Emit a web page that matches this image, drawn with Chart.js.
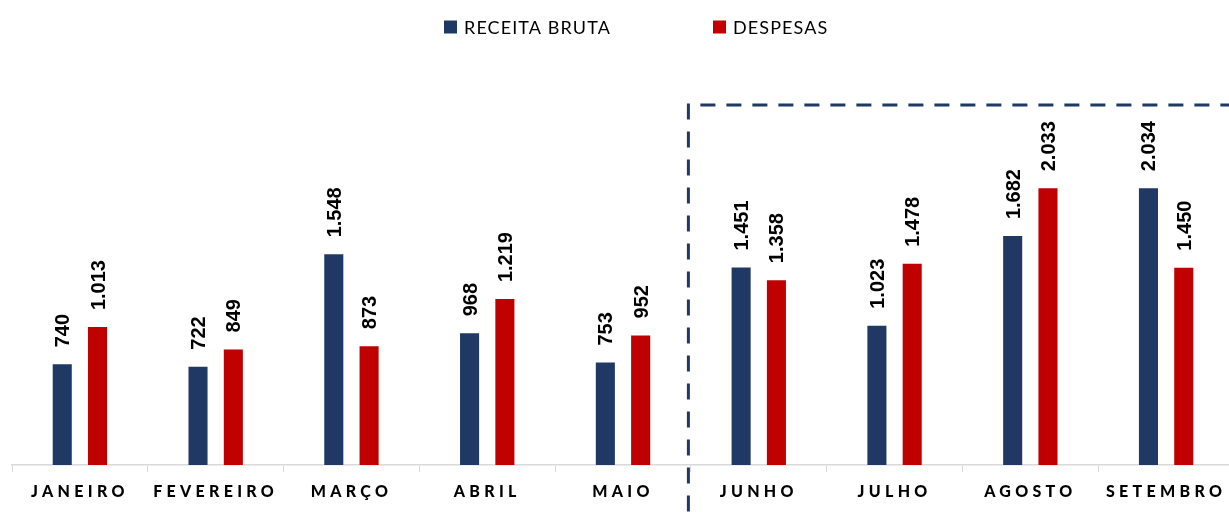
<!DOCTYPE html>
<html><head><meta charset="utf-8">
<script src="https://cdn.jsdelivr.net/npm/chart.js@4.4.1/dist/chart.umd.min.js"></script>
<style>html,body{margin:0;padding:0;background:#fff;overflow:hidden;}#wrap{width:1234px;height:512px;position:relative;}</style>
</head><body><div id="wrap"><canvas id="c"></canvas></div>
<script>
const categories = ['JANEIRO','FEVEREIRO','MARÇO','ABRIL','MAIO','JUNHO','JULHO','AGOSTO','SETEMBRO'];
const receitaBruta = [740, 722, 1548, 968, 753, 1451, 1023, 1682, 2034];
const despesas = [1013, 849, 873, 1219, 952, 1358, 1478, 2033, 1450];
const seriesNames = ['RECEITA BRUTA', 'DESPESAS'];
const seriesColors = ['#203864', '#C00000'];
const highlightStartIndex = 5;
const yMax = 2645;

function fmt(v){ return String(v).replace(/\B(?=(\d{3})+(?!\d))/g, '.'); }

const valueLabels = {
  id: 'valueLabels',
  afterDatasetsDraw(chart) {
    const ctx = chart.ctx;
    ctx.save();
    ctx.font = 'bold 20px "Liberation Sans", Arial, sans-serif';
    ctx.fillStyle = '#000';
    ctx.textAlign = 'left';
    ctx.textBaseline = 'alphabetic';
    chart.data.datasets.forEach((ds, di) => {
      const meta = chart.getDatasetMeta(di);
      meta.data.forEach((el, i) => {
        ctx.save();
        ctx.translate(el.x + 7, el.y - 17);
        ctx.rotate(-Math.PI / 2);
        ctx.fillText(fmt(ds.data[i]), 0, 0);
        ctx.restore();
      });
    });
    ctx.restore();
  }
};

const xLabels = {
  id: 'xLabels',
  afterDraw(chart) {
    const ctx = chart.ctx, xs = chart.scales.x;
    ctx.save();
    ctx.font = '900 16px Lato, sans-serif';
    ctx.letterSpacing = '4.3px';
    ctx.fillStyle = '#000';
    ctx.textAlign = 'center';
    ctx.textBaseline = 'middle';
    chart.data.labels.forEach((lab, i) => {
      ctx.fillText(lab, xs.getPixelForValue(i), 492);
    });
    ctx.restore();
  }
};

const customLegend = {
  id: 'customLegend',
  afterDraw(chart) {
    const ctx = chart.ctx;
    ctx.save();
    ctx.font = '18px Lato, sans-serif';
    ctx.letterSpacing = '1.1px';
    ctx.textBaseline = 'middle';
    ctx.textAlign = 'left';
    const box = 13, gap = 7;
    const starts = [444, 713];
    const cy = 27;
    chart.data.datasets.forEach((d, i) => {
      const x = starts[i];
      ctx.fillStyle = d.backgroundColor;
      ctx.fillRect(x, cy - box / 2, box, box);
      ctx.fillStyle = '#000';
      ctx.fillText(d.label, x + box + gap, cy + 1);
    });
    ctx.restore();
  }
};

const dashedBox = {
  id: 'dashedBox',
  afterDraw(chart) {
    const ctx = chart.ctx, xs = chart.scales.x, area = chart.chartArea;
    const bx = (xs.getPixelForValue(highlightStartIndex - 1) + xs.getPixelForValue(highlightStartIndex)) / 2 - 2.5;
    const top = area.top;
    ctx.save();
    ctx.strokeStyle = '#203864';
    ctx.lineWidth = 3;
    ctx.setLineDash([16, 12]);
    ctx.beginPath();
    ctx.moveTo(bx, top - 1.5);
    ctx.lineTo(bx, chart.height);
    ctx.stroke();
    ctx.setLineDash([15, 11]);
    ctx.beginPath();
    ctx.moveTo(bx + 12, top);
    ctx.lineTo(chart.width, top);
    ctx.stroke();
    ctx.restore();
  }
};

new Chart(document.getElementById('c'), {
  type: 'bar',
  data: {
    labels: categories,
    datasets: [
      { label: seriesNames[0], data: receitaBruta, backgroundColor: seriesColors[0] },
      { label: seriesNames[1], data: despesas, backgroundColor: seriesColors[1] }
    ]
  },
  options: {
    responsive: true,
    maintainAspectRatio: false,
    animation: false,
    devicePixelRatio: 1,
    layout: { padding: { top: 105, left: 12, right: 0, bottom: 0 } },
    datasets: { bar: { categoryPercentage: 0.52, barPercentage: 0.54 } },
    plugins: { legend: { display: false }, tooltip: { enabled: false } },
    scales: {
      x: {
        offset: true,
        grid: { display: true, drawOnChartArea: false, drawTicks: true, tickLength: 7, color: '#d9d9d9', offset: true },
        border: { display: true, color: '#d9d9d9', width: 1.5 },
        ticks: { display: false },
        afterFit(scale) { scale.height = 47; }
      },
      y: { display: false, min: 0, max: yMax }
    }
  },
  plugins: [valueLabels, xLabels, customLegend, dashedBox]
});
</script>
</body></html>
